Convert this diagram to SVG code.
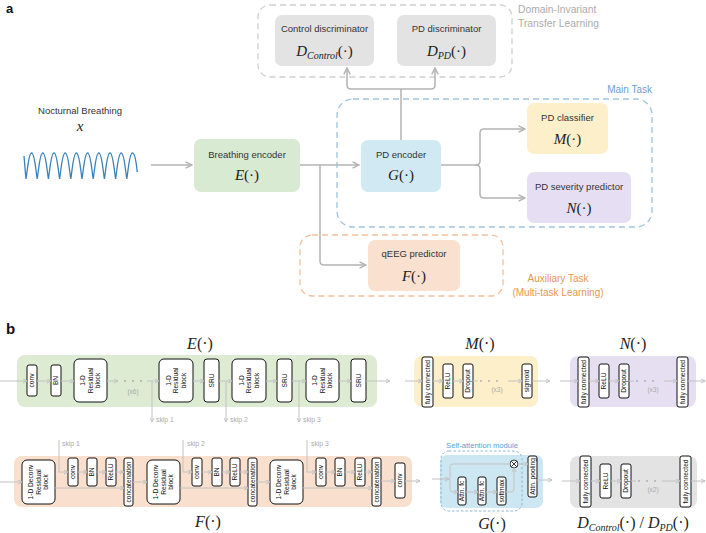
<svg xmlns="http://www.w3.org/2000/svg" width="706" height="533" viewBox="0 0 706 533">
<style>
.lbl{font-family:"Liberation Sans",Arial,sans-serif;font-size:9.5px;fill:#333;text-anchor:middle}
.math{font-family:"Liberation Serif","Times New Roman",serif;font-style:italic;font-size:15px;fill:#222;text-anchor:middle}
.mathb{font-family:"Liberation Serif","Times New Roman",serif;font-style:italic;font-size:16px;fill:#222;text-anchor:middle}
.up{font-style:normal}
.sub{font-size:10px}
.conn{fill:none;stroke:#b3b3b3;stroke-width:1.5}
.bconn{fill:none;stroke:#c2c2c2;stroke-width:1}
.comp{fill:#fff;stroke:#111;stroke-width:1}
.ct{font-family:"Liberation Sans",Arial,sans-serif;font-size:6.6px;fill:#111;text-anchor:middle}
.rep{font-family:"Liberation Sans",Arial,sans-serif;font-size:6.5px;fill:#aaa;text-anchor:middle}
.skip{font-family:"Liberation Sans",Arial,sans-serif;font-size:6.8px;fill:#aaa}
.dot{fill:#aaa}
.panel{font-family:"Liberation Sans",Arial,sans-serif;font-weight:bold;fill:#111}
.dash{fill:none;stroke-width:1.3;stroke-dasharray:6 4}
</style>
<defs>
<marker id="ah" viewBox="0 0 10 10" refX="9" refY="5" markerWidth="8" markerHeight="8" markerUnits="userSpaceOnUse" orient="auto"><path d="M1,1 L9,5 L1,9" fill="none" stroke="#b3b3b3" stroke-width="1.8"/></marker>
<marker id="as" viewBox="0 0 10 10" refX="9" refY="5" markerWidth="5" markerHeight="5" markerUnits="userSpaceOnUse" orient="auto"><path d="M1,1 L9,5 L1,9" fill="none" stroke="#bdbdbd" stroke-width="1.8"/></marker>
</defs>
<rect width="706" height="533" fill="#fff"/>

<text class="panel" x="6" y="13" font-size="13">a</text>
<text class="panel" x="6" y="334" font-size="15">b</text>

<g id="region-domain">
<rect class="dash" x="258" y="5" width="254" height="72" rx="12" stroke="#cfcfcf"/>
<text x="518" y="13" font-family="Liberation Sans, Arial, sans-serif" font-size="10.3" fill="#ababab">Domain-Invariant</text>
<text x="518" y="27" font-family="Liberation Sans, Arial, sans-serif" font-size="10.3" fill="#ababab">Transfer Learning</text>
</g>
<g id="region-main">
<rect class="dash" x="337" y="99" width="315" height="128" rx="16" stroke="#9fc5de"/>
<text x="652" y="93" text-anchor="end" font-family="Liberation Sans, Arial, sans-serif" font-size="10" fill="#6a9fd0">Main Task</text>
</g>
<g id="region-aux">
<rect class="dash" x="300" y="235" width="203" height="61" rx="12" stroke="#f4bf98"/>
<text x="558" y="282" text-anchor="middle" font-family="Liberation Sans, Arial, sans-serif" font-size="10" fill="#e8964f">Auxiliary Task</text>
<text x="558" y="296" text-anchor="middle" font-family="Liberation Sans, Arial, sans-serif" font-size="10" fill="#e8964f">(Multi-task Learning)</text>
</g>

<g id="input">
<text class="lbl" x="80" y="114" font-size="10.5">Nocturnal Breathing</text>
<text class="math" x="80" y="131">x</text>
<path fill="none" stroke="#3b82bd" stroke-width="1.3" d="M24,156 C24.8,165 25.4,174 26,179 C27.5,170 28.5,153 31.6,153 C34.7,153 35.7,170 37.2,179 C38.7,170 39.7,153 42.8,153 C45.9,153 46.9,170 48.4,179 C49.9,170 50.9,153 54,153 C57.1,153 58.1,170 59.6,179 C61.1,170 62.1,153 65.2,153 C68.3,153 69.3,170 70.8,179 C72.3,170 73.3,153 76.4,153 C79.5,153 80.5,170 82,179 C83.5,170 84.5,153 87.6,153 C90.7,153 91.7,170 93.2,179 C94.7,170 95.7,153 98.8,153 C101.9,153 102.9,170 104.4,179 C105.9,170 106.9,153 110,153 C113.1,153 114.1,170 115.6,179 C117.1,170 118.1,153 121.2,153 C124.3,153 125.3,170 126.8,179 C128.3,170 129.3,153 132.4,153 C135.5,153 136.5,165 137.2,172"/>
</g>

<g id="breathing-encoder">
<rect x="194" y="139" width="106" height="53" rx="7" fill="#d9ead3"/>
<text class="lbl" x="247" y="157.5">Breathing encoder</text>
<text class="math" x="247" y="180">E<tspan class="up">(·)</tspan></text>
</g>
<g id="pd-encoder">
<rect x="361" y="140" width="80" height="52" rx="7" fill="#d0e9f2"/>
<text class="lbl" x="401" y="157.5">PD encoder</text>
<text class="math" x="401" y="180">G<tspan class="up">(·)</tspan></text>
</g>
<g id="control-discriminator">
<rect x="275" y="15" width="99" height="51" rx="7" fill="#e3e3e3"/>
<text class="lbl" x="324.5" y="32">Control discriminator</text>
<text class="math" x="324.5" y="56">D<tspan class="sub" dy="3">Control</tspan><tspan class="up" dy="-3">(·)</tspan></text>
</g>
<g id="pd-discriminator">
<rect x="397" y="15" width="99" height="51" rx="7" fill="#e3e3e3"/>
<text class="lbl" x="446.5" y="32">PD discriminator</text>
<text class="math" x="446.5" y="56">D<tspan class="sub" dy="3">PD</tspan><tspan class="up" dy="-3">(·)</tspan></text>
</g>
<g id="pd-classifier">
<rect x="527" y="103" width="81" height="51" rx="7" fill="#fdefc9"/>
<text class="lbl" x="567.5" y="120.5">PD classifier</text>
<text class="math" x="567.5" y="144">M<tspan class="up">(·)</tspan></text>
</g>
<g id="pd-severity">
<rect x="527" y="172" width="104" height="51" rx="7" fill="#e6dff3"/>
<text class="lbl" x="579" y="189.5">PD severity predictor</text>
<text class="math" x="579" y="213">N<tspan class="up">(·)</tspan></text>
</g>
<g id="qeeg-predictor">
<rect x="368" y="240" width="92" height="51" rx="7" fill="#f9e0cf"/>
<text class="lbl" x="414" y="257">qEEG predictor</text>
<text class="math" x="414" y="281">F<tspan class="up">(·)</tspan></text>
</g>

<g id="connectors-a">
<path class="conn" d="M151,165 H192" marker-end="url(#ah)"/>
<path class="conn" d="M300,165 H359" marker-end="url(#ah)"/>
<path class="conn" d="M320,165 V261 Q320,265 324,265 H366" marker-end="url(#ah)"/>
<path class="conn" d="M441,165 H476 Q480,165 480,161 V133 Q480,129 484,129 H525" marker-end="url(#ah)"/>
<path class="conn" d="M476,165 Q480,165 480,169 V194 Q480,198 484,198 H525" marker-end="url(#ah)"/>
<path class="conn" d="M401,140 V89"/>
<path class="conn" d="M401,89 H351 Q347,89 347,85 V68" marker-end="url(#ah)"/>
<path class="conn" d="M401,89 H431 Q435,89 435,85 V68" marker-end="url(#ah)"/>
</g>

<g id="block-E">
<text class="mathb" x="200" y="349">E<tspan class="up">(·)</tspan></text>
<rect x="17" y="355" width="360" height="52" rx="8" fill="#dcebd2"/>
<rect class="comp" x="27" y="365" width="10" height="31" rx="2"/>
<text class="ct" transform="translate(32,380.5) rotate(-90)" y="2.3">conv</text>
<rect class="comp" x="51" y="365" width="10" height="31" rx="2"/>
<text class="ct" transform="translate(56,380.5) rotate(-90)" y="2.3">BN</text>
<rect class="comp" x="74" y="359" width="33" height="43" rx="5"/>
<text class="ct" transform="translate(90.5,380.5) rotate(-90)"><tspan x="0" y="-5.2">1-D</tspan><tspan x="0" y="2.3">Residual</tspan><tspan x="0" y="9.8">block</tspan></text>
<circle class="dot" cx="125" cy="381" r="0.9"/><circle class="dot" cx="133" cy="381" r="0.9"/><circle class="dot" cx="141" cy="381" r="0.9"/>
<text class="rep" x="133" y="394">(x6)</text>
<rect class="comp" x="159" y="359" width="34" height="43" rx="5"/>
<text class="ct" transform="translate(176,380.5) rotate(-90)"><tspan x="0" y="-5.2">1-D</tspan><tspan x="0" y="2.3">Residual</tspan><tspan x="0" y="9.8">block</tspan></text>
<rect class="comp" x="204" y="359" width="15" height="43" rx="3"/>
<text class="ct" transform="translate(211.5,380.5) rotate(-90)" y="2.3">SRU</text>
<rect class="comp" x="232" y="359" width="34" height="43" rx="5"/>
<text class="ct" transform="translate(249,380.5) rotate(-90)"><tspan x="0" y="-5.2">1-D</tspan><tspan x="0" y="2.3">Residual</tspan><tspan x="0" y="9.8">block</tspan></text>
<rect class="comp" x="277" y="359" width="15" height="43" rx="3"/>
<text class="ct" transform="translate(284.5,380.5) rotate(-90)" y="2.3">SRU</text>
<rect class="comp" x="306" y="359" width="33" height="43" rx="5"/>
<text class="ct" transform="translate(322.5,380.5) rotate(-90)"><tspan x="0" y="-5.2">1-D</tspan><tspan x="0" y="2.3">Residual</tspan><tspan x="0" y="9.8">block</tspan></text>
<rect class="comp" x="351" y="359" width="15" height="43" rx="3"/>
<text class="ct" transform="translate(358.5,380.5) rotate(-90)" y="2.3">SRU</text>
<text class="skip" x="156" y="422">skip 1</text>
<text class="skip" x="230" y="422">skip 2</text>
<text class="skip" x="303" y="422">skip 3</text>
</g>

<g id="block-M">
<text class="mathb" x="480" y="349">M<tspan class="up">(·)</tspan></text>
<rect x="414" y="356" width="124" height="51" rx="8" fill="#fcefc9"/>
<rect class="comp" x="422" y="357" width="11" height="50" rx="2"/>
<text class="ct" transform="translate(427.5,382) rotate(-90)" y="2.3">fully connected</text>
<rect class="comp" x="443" y="364" width="10" height="34" rx="2"/>
<text class="ct" transform="translate(448,381) rotate(-90)" y="2.3">ReLU</text>
<rect class="comp" x="463" y="364" width="10" height="34" rx="2"/>
<text class="ct" transform="translate(468,381) rotate(-90)" y="2.3">Dropout</text>
<circle class="dot" cx="481" cy="381" r="0.9"/><circle class="dot" cx="489" cy="381" r="0.9"/><circle class="dot" cx="497" cy="381" r="0.9"/>
<text class="rep" x="497" y="392">(x3)</text>
<rect class="comp" x="522" y="364" width="10" height="34" rx="2"/>
<text class="ct" transform="translate(527,381) rotate(-90)" y="2.3">sigmoid</text>
</g>

<g id="block-N">
<text class="mathb" x="633" y="349">N<tspan class="up">(·)</tspan></text>
<rect x="570" y="356" width="126" height="51" rx="8" fill="#e6dff2"/>
<rect class="comp" x="578" y="357" width="11" height="50" rx="2"/>
<text class="ct" transform="translate(583.5,382) rotate(-90)" y="2.3">fully connected</text>
<rect class="comp" x="599" y="364" width="10" height="34" rx="2"/>
<text class="ct" transform="translate(604,381) rotate(-90)" y="2.3">ReLU</text>
<rect class="comp" x="619" y="364" width="10" height="34" rx="2"/>
<text class="ct" transform="translate(624,381) rotate(-90)" y="2.3">Dropout</text>
<circle class="dot" cx="637" cy="381" r="0.9"/><circle class="dot" cx="645" cy="381" r="0.9"/><circle class="dot" cx="653" cy="381" r="0.9"/>
<text class="rep" x="653" y="392">(x3)</text>
<rect class="comp" x="677" y="357" width="11" height="50" rx="2"/>
<text class="ct" transform="translate(682.5,382) rotate(-90)" y="2.3">fully connected</text>
</g>

<g id="block-F">
<rect x="14" y="456" width="398" height="51" rx="8" fill="#f9dfcd"/>
<text class="mathb" x="208" y="527">F<tspan class="up">(·)</tspan></text>
<rect class="comp" x="22" y="460" width="33" height="44" rx="5"/>
<text class="ct" transform="translate(38.5,482) rotate(-90)"><tspan x="0" y="-5.2">1-D Deconv</tspan><tspan x="0" y="2.3">Residual</tspan><tspan x="0" y="9.8">block</tspan></text>
<rect class="comp" x="68" y="458" width="10" height="28" rx="2"/>
<text class="ct" transform="translate(73,472) rotate(-90)" y="2.3">conv</text>
<rect class="comp" x="87" y="458" width="10" height="28" rx="2"/>
<text class="ct" transform="translate(92,472) rotate(-90)" y="2.3">BN</text>
<rect class="comp" x="106" y="458" width="10" height="28" rx="2"/>
<text class="ct" transform="translate(111,472) rotate(-90)" y="2.3">ReLU</text>
<rect class="comp" x="124" y="458" width="9" height="48" rx="2"/>
<text class="ct" transform="translate(128.5,482) rotate(-90)" y="2.3">concatenation</text>
<rect class="comp" x="147" y="460" width="33" height="44" rx="5"/>
<text class="ct" transform="translate(163.5,482) rotate(-90)"><tspan x="0" y="-5.2">1-D Deconv</tspan><tspan x="0" y="2.3">Residual</tspan><tspan x="0" y="9.8">block</tspan></text>
<rect class="comp" x="192" y="458" width="10" height="28" rx="2"/>
<text class="ct" transform="translate(197,472) rotate(-90)" y="2.3">conv</text>
<rect class="comp" x="212" y="458" width="10" height="28" rx="2"/>
<text class="ct" transform="translate(217,472) rotate(-90)" y="2.3">BN</text>
<rect class="comp" x="230" y="458" width="10" height="28" rx="2"/>
<text class="ct" transform="translate(235,472) rotate(-90)" y="2.3">ReLU</text>
<rect class="comp" x="248" y="458" width="9" height="48" rx="2"/>
<text class="ct" transform="translate(252.5,482) rotate(-90)" y="2.3">concatenation</text>
<rect class="comp" x="270" y="460" width="33" height="44" rx="5"/>
<text class="ct" transform="translate(286.5,482) rotate(-90)"><tspan x="0" y="-5.2">1-D Deconv</tspan><tspan x="0" y="2.3">Residual</tspan><tspan x="0" y="9.8">block</tspan></text>
<rect class="comp" x="316" y="458" width="10" height="28" rx="2"/>
<text class="ct" transform="translate(321,472) rotate(-90)" y="2.3">conv</text>
<rect class="comp" x="335" y="458" width="10" height="28" rx="2"/>
<text class="ct" transform="translate(340,472) rotate(-90)" y="2.3">BN</text>
<rect class="comp" x="355" y="458" width="10" height="28" rx="2"/>
<text class="ct" transform="translate(360,472) rotate(-90)" y="2.3">ReLU</text>
<rect class="comp" x="372" y="458" width="9" height="48" rx="2"/>
<text class="ct" transform="translate(376.5,482) rotate(-90)" y="2.3">concatenation</text>
<rect class="comp" x="395" y="463" width="10" height="35" rx="2"/>
<text class="ct" transform="translate(400,480.5) rotate(-90)" y="2.3">conv</text>
<text class="skip" x="62" y="446">skip 1</text>
<text class="skip" x="187" y="446">skip 2</text>
<text class="skip" x="311" y="446">skip 3</text>
</g>

<g id="block-G">
<rect x="440" y="455" width="103" height="53" rx="7" fill="#cde7f2"/>
<rect x="441" y="451" width="81" height="60" rx="8" fill="none" stroke="#7fb0cf" stroke-width="0.9" stroke-dasharray="2.5 2"/>
<text x="482" y="448" text-anchor="middle" font-family="Liberation Sans, Arial, sans-serif" font-size="7.6" fill="#5aa0d0">Self-attention module</text>
<rect class="comp" x="458" y="477" width="8" height="28" rx="2"/>
<text class="ct" transform="translate(462,491) rotate(-90)" y="2.3">Attn. fc</text>
<rect class="comp" x="478" y="477" width="8" height="28" rx="2"/>
<text class="ct" transform="translate(482,491) rotate(-90)" y="2.3">Attn. fc</text>
<rect class="comp" x="497" y="477" width="9" height="28" rx="2"/>
<text class="ct" transform="translate(501.5,491) rotate(-90)" y="2.3">softmax</text>
<circle cx="514" cy="464" r="4" fill="#fff" stroke="#222" stroke-width="0.9"/>
<path d="M511.2,461.2 L516.8,466.8 M516.8,461.2 L511.2,466.8" stroke="#222" stroke-width="0.9"/>
<rect class="comp" x="528" y="456" width="9" height="41" rx="2"/>
<text class="ct" transform="translate(532.5,476.5) rotate(-90)" y="2.2" font-size="6.2">Attn. pooling</text>
<text class="mathb" x="492" y="529">G<tspan class="up">(·)</tspan></text>
</g>

<g id="block-D">
<rect x="570" y="456" width="127" height="52" rx="8" fill="#e3e3e3"/>
<rect class="comp" x="580" y="456" width="11" height="51" rx="2"/>
<text class="ct" transform="translate(585.5,481.5) rotate(-90)" y="2.3">fully connected</text>
<rect class="comp" x="600" y="464" width="11" height="34" rx="2"/>
<text class="ct" transform="translate(605.5,481) rotate(-90)" y="2.3">ReLU</text>
<rect class="comp" x="621" y="464" width="10" height="34" rx="2"/>
<text class="ct" transform="translate(626,481) rotate(-90)" y="2.3">Dropout</text>
<circle class="dot" cx="639" cy="481" r="0.9"/><circle class="dot" cx="647" cy="481" r="0.9"/><circle class="dot" cx="655" cy="481" r="0.9"/>
<text class="rep" x="653" y="492">(x2)</text>
<rect class="comp" x="680" y="456" width="11" height="51" rx="2"/>
<text class="ct" transform="translate(685.5,481.5) rotate(-90)" y="2.3">fully connected</text>
<text class="mathb" x="633" y="528">D<tspan class="sub" font-size="11" dy="3">Control</tspan><tspan class="up" dy="-3">(·) / </tspan>D<tspan class="sub" font-size="11" dy="3">PD</tspan><tspan class="up" dy="-3">(·)</tspan></text>
</g>

<g id="connectors-b">
<path class="bconn" d="M0,381 H27" marker-end="url(#as)"/>
<path class="bconn" d="M37,381 H51" marker-end="url(#as)"/>
<path class="bconn" d="M61,381 H74" marker-end="url(#as)"/>
<path class="bconn" d="M107,381 H118" marker-end="url(#as)"/>
<path class="bconn" d="M147,381 H159" marker-end="url(#as)"/>
<path class="bconn" d="M193,381 H204" marker-end="url(#as)"/>
<path class="bconn" d="M219,381 H232" marker-end="url(#as)"/>
<path class="bconn" d="M266,381 H277" marker-end="url(#as)"/>
<path class="bconn" d="M292,381 H306" marker-end="url(#as)"/>
<path class="bconn" d="M339,381 H351" marker-end="url(#as)"/>
<path class="bconn" d="M366,381 H390" marker-end="url(#as)"/>
<path class="bconn" d="M152,381 V422" marker-end="url(#as)"/>
<path class="bconn" d="M226,381 V422" marker-end="url(#as)"/>
<path class="bconn" d="M299,381 V422" marker-end="url(#as)"/>
<path class="bconn" d="M405,381 H422" marker-end="url(#as)"/>
<path class="bconn" d="M433,381 H443" marker-end="url(#as)"/>
<path class="bconn" d="M453,381 H463" marker-end="url(#as)"/>
<path class="bconn" d="M473,381 H478"/>
<path class="bconn" d="M508,381 H522" marker-end="url(#as)"/>
<path class="bconn" d="M532,381 H550" marker-end="url(#as)"/>
<path class="bconn" d="M560,381 H578" marker-end="url(#as)"/>
<path class="bconn" d="M589,381 H599" marker-end="url(#as)"/>
<path class="bconn" d="M609,381 H619" marker-end="url(#as)"/>
<path class="bconn" d="M629,381 H634"/>
<path class="bconn" d="M664,381 H677" marker-end="url(#as)"/>
<path class="bconn" d="M688,381 H705" marker-end="url(#as)"/>
<path class="bconn" d="M0,482 H22" marker-end="url(#as)"/>
<path class="bconn" d="M55,488 H124" marker-end="url(#as)"/>
<path class="bconn" d="M59,440 V472 H68" marker-end="url(#as)"/>
<path class="bconn" d="M78,472 H87" marker-end="url(#as)"/>
<path class="bconn" d="M97,472 H106" marker-end="url(#as)"/>
<path class="bconn" d="M116,472 H124" marker-end="url(#as)"/>
<path class="bconn" d="M133,482 H147" marker-end="url(#as)"/>
<path class="bconn" d="M180,488 H248" marker-end="url(#as)"/>
<path class="bconn" d="M183,440 V472 H192" marker-end="url(#as)"/>
<path class="bconn" d="M202,472 H212" marker-end="url(#as)"/>
<path class="bconn" d="M222,472 H230" marker-end="url(#as)"/>
<path class="bconn" d="M240,472 H248" marker-end="url(#as)"/>
<path class="bconn" d="M257,482 H270" marker-end="url(#as)"/>
<path class="bconn" d="M303,488 H372" marker-end="url(#as)"/>
<path class="bconn" d="M307,440 V472 H316" marker-end="url(#as)"/>
<path class="bconn" d="M326,472 H335" marker-end="url(#as)"/>
<path class="bconn" d="M345,472 H355" marker-end="url(#as)"/>
<path class="bconn" d="M365,472 H372" marker-end="url(#as)"/>
<path class="bconn" d="M381,481 H395" marker-end="url(#as)"/>
<path class="bconn" d="M405,481 H420" marker-end="url(#as)"/>
<path class="bconn" d="M432,479 H449" marker-end="url(#as)"/>
<path class="bconn" d="M510,464 H453 Q450,464 450,467 V489 Q450,492 453,492 H458" marker-end="url(#as)"/>
<path class="bconn" d="M466,492 H478" marker-end="url(#as)"/>
<path class="bconn" d="M486,492 H497" marker-end="url(#as)"/>
<path class="bconn" d="M506,492 H511 Q514,492 514,489 V468" marker-end="url(#as)"/>
<path class="bconn" d="M518,464 H528" marker-end="url(#as)"/>
<path class="bconn" d="M537,480 H552" marker-end="url(#as)"/>
<path class="bconn" d="M562,481 H580" marker-end="url(#as)"/>
<path class="bconn" d="M591,481 H600" marker-end="url(#as)"/>
<path class="bconn" d="M611,481 H621" marker-end="url(#as)"/>
<path class="bconn" d="M631,481 H636"/>
<path class="bconn" d="M662,481 H680" marker-end="url(#as)"/>
<path class="bconn" d="M691,481 H705" marker-end="url(#as)"/>
</g>
</svg>
